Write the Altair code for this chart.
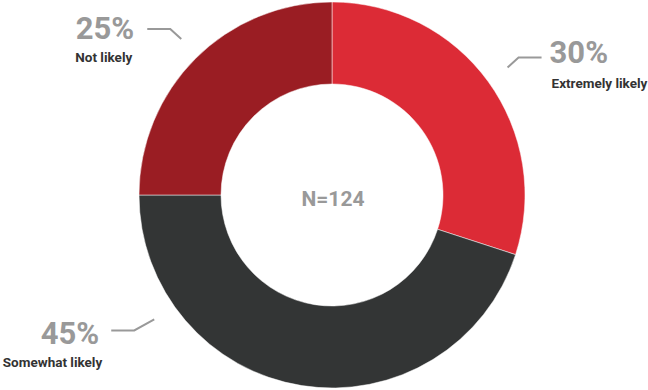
import math
import altair as alt
import pandas as pd

categories = ["Extremely likely", "Somewhat likely", "Not likely"]
values = [30, 45, 25]
colors = ["#dc2b36", "#333535", "#9a1d23"]
label_angles = [54, 235, 316]   # degrees clockwise from 12 o'clock where leaders start
center_label = "N=124"

W, H = 648, 390
CX, CY = 332, 195
R_OUT, R_IN = 193, 111

df = pd.DataFrame({"cat": categories, "val": values, "ord": range(len(values))})
df["pct"] = [f"{v}%" for v in values]

line_rows, pct_rows, name_rows = [], [], []
for c, p, a in zip(categories, df["pct"], label_angles):
    t = math.radians(a)
    s, co = math.sin(t), math.cos(t)
    x1, y1 = CX + 217 * s, CY - 217 * co
    side = 1 if s > 0 else -1
    if co > 0:
        x2, y2 = x1 + side * 11, y1 - 10
    else:
        x2, y2 = x1 + side * 20, y1 + 11
    x3, y3 = x2 + side * 23, y2
    for i, (x, y) in enumerate([(x1, y1), (x2, y2), (x3, y3)]):
        line_rows.append({"cat": c, "i": i, "x": x, "y": y})
    if side > 0:
        pct_rows.append({"t": p, "x": x3 + 8, "y": y3 + 6, "align": "left"})
        name_rows.append({"t": c, "x": x3 + 10, "y": y3 + 31, "align": "left"})
    elif co > 0:
        pct_rows.append({"t": p, "x": x3 - 13, "y": y3 + 10, "align": "right"})
        name_rows.append({"t": c, "x": x3 - 15, "y": y3 + 33, "align": "right"})
    else:
        pct_rows.append({"t": p, "x": x3 - 12, "y": y3 + 14, "align": "right"})
        name_rows.append({"t": c, "x": x3 - 9, "y": y3 + 37, "align": "right"})

lines = pd.DataFrame(line_rows)
pcts = pd.DataFrame(pct_rows)
names = pd.DataFrame(name_rows)

xs = alt.Scale(domain=[0, W], range=[0, W])
ys = alt.Scale(domain=[0, H], range=[0, H])

arc = alt.Chart(df).mark_arc(outerRadius=R_OUT, innerRadius=R_IN, stroke="white", strokeWidth=0.5).encode(
    theta=alt.Theta("val:Q", stack=True),
    order=alt.Order("ord:Q"),
    color=alt.Color("cat:N", scale=alt.Scale(domain=categories, range=colors), legend=None),
    x=alt.value(CX), y=alt.value(CY),
)

leader = alt.Chart(lines).mark_line(color="#999999", strokeWidth=2).encode(
    x=alt.X("x:Q", scale=xs, axis=None),
    y=alt.Y("y:Q", scale=ys, axis=None),
    detail="cat:N",
    order="i:Q",
)

def text_layer(data, size, color):
    layers = []
    for al in ["left", "right"]:
        d = data[data["align"] == al]
        if len(d) == 0:
            continue
        layers.append(alt.Chart(d).mark_text(
            align=al, baseline="alphabetic", font="Roboto", fontWeight="bold",
            fontSize=size, color=color,
        ).encode(
            x=alt.X("x:Q", scale=xs, axis=None),
            y=alt.Y("y:Q", scale=ys, axis=None),
            text="t:N",
        ))
    return layers

center = alt.Chart(pd.DataFrame({"t": [center_label]})).mark_text(
    font="Roboto", fontWeight="bold", fontSize=21, color="#999999", baseline="alphabetic"
).encode(x=alt.value(CX + 1), y=alt.value(CY + 11), text="t:N")

chart = alt.layer(
    arc, leader,
    *text_layer(pcts, 31, "#999999"),
    *text_layer(names, 13.5, "#333333"),
    center,
).properties(
    width=W, height=H, padding=0, autosize=alt.AutoSizeParams(type="none"),
).configure_view(stroke=None)

chart.save("out.html", embed_options={"renderer": "svg", "actions": False})
